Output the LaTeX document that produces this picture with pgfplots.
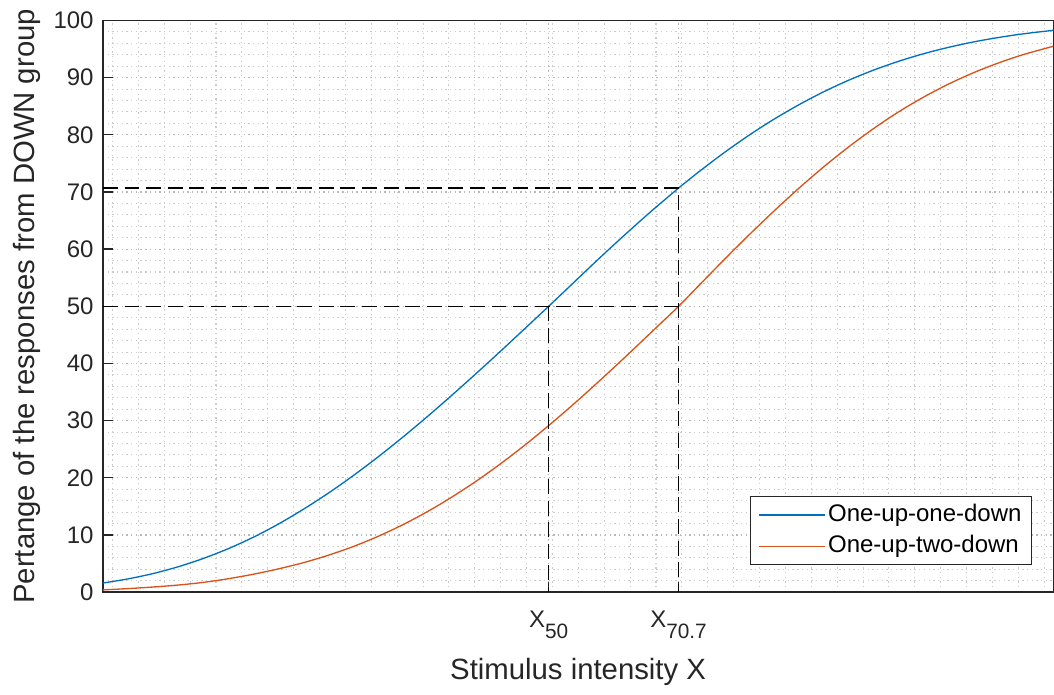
\documentclass[border=0pt]{standalone}
\usepackage{fontspec}
\setmainfont{Liberation Sans}
\usepackage{pgfplots}
\usepackage{pgfplotstable}
\pgfplotsset{compat=1.18}
\definecolor{mblue}{rgb}{0,0.447,0.741}
\definecolor{mred}{rgb}{0.85,0.325,0.098}
\definecolor{axgray}{rgb}{0.15,0.15,0.15}

\pgfplotstableread{
x y
103 1.60
128 2.32
153 3.25
178 4.43
203 5.87
228 7.58
253 9.57
278 11.86
303 14.44
328 17.26
353 20.33
378 23.62
403 27.11
428 30.77
453 34.58
478 38.50
503 42.50
528 46.57
549 50.00
575 54.32
600 58.46
625 62.48
650 66.38
675 70.10
679 70.70
700 73.63
725 76.93
750 79.99
775 82.79
800 85.32
825 87.60
850 89.61
875 91.38
900 92.91
925 94.23
950 95.34
975 96.28
1000 97.05
1025 97.69
1054 98.28
}\oneup

\pgfplotstableread{
x y
103 0.40
128 0.62
153 0.90
178 1.24
203 1.70
228 2.34
253 3.12
278 4.05
303 5.13
328 6.43
353 7.95
378 9.74
403 11.79
428 14.12
453 16.73
478 19.60
503 22.74
528 26.12
553 29.73
578 33.52
603 37.47
628 41.53
653 45.68
679 50.00
700 53.77
725 58.23
750 62.58
775 66.76
800 70.75
825 74.51
850 78.00
875 81.20
900 84.11
925 86.68
950 88.95
975 90.93
1000 92.63
1025 94.09
1054 95.49
}\twodown

\begin{document}
\begin{tikzpicture}
\begin{axis}[
  scale only axis, width=356.6pt, height=214.5pt,
  xmin=103, xmax=1054, ymin=0, ymax=100,
  axis line style={axgray, line width=0.5pt},
  xtick={549,679},
  xticklabels={{X\raisebox{-4pt}{\fontsize{7.8}{8}\selectfont 50}},{X\raisebox{-4pt}{\fontsize{7.8}{8}\selectfont 70.7}}},
  minor xtick={112.5,138.4,...,1050},
  ytick={0,10,...,100},
  minor y tick num=4,
  tick align=inside, tick pos=left,
  major tick length=3.75pt, minor tick length=0pt,
  tick style={axgray, line width=0.5pt},
  grid=both,
  major grid style={gray!55, dash pattern=on 0.5pt off 1.26pt, line width=0.4pt},
  minor grid style={gray!40, dash pattern=on 0.5pt off 1.26pt, line width=0.4pt},
  ticklabel style={font=\fontsize{9}{11}\selectfont, text=axgray},
  /pgf/number format/assume math mode=true,
  xticklabel style={yshift=-3.5pt},
  xlabel={Stimulus intensity X},
  ylabel={Pertange of the responses from DOWN group},
  label style={font=\fontsize{11}{13}\selectfont, text=axgray},
  xlabel style={at={(axis description cs:0.5,-0.099)}, anchor=north},
  ylabel style={at={(axis description cs:-0.0796,0.5)}, anchor=center},
  legend cell align=left,
  legend image code/.code={\draw[#1] (0pt,0pt) -- (24.75pt,0pt);},
  legend style={draw=axgray, line width=0.4pt, fill=white,
    font=\fontsize{9}{11}\selectfont,
    at={(0.978,0.047)}, anchor=south east,
    inner xsep=2.9pt, inner ysep=1pt, row sep=0pt,
    nodes={inner ysep=1.7pt, inner xsep=1pt, text height=6.5pt, text depth=1.9pt}},
]
\addplot[mblue, line width=0.5pt, smooth] table {\oneup};
\addlegendentry{One-up-one-down}
\addplot[mred, line width=0.5pt, smooth] table {\twodown};
\addlegendentry{One-up-two-down}
\addplot[black, line width=0.5pt, dash pattern=on 5.6pt off 2.5pt, forget plot] coordinates {(103,70.7) (679,70.7) (679,0)};
\addplot[black, line width=0.5pt, dash pattern=on 5.6pt off 2.5pt, forget plot] coordinates {(103,50) (679,50)};
\addplot[black, line width=0.5pt, dash pattern=on 5.6pt off 2.5pt, forget plot] coordinates {(549,50) (549,0)};
\end{axis}
\path ([xshift=-38.63pt,yshift=-36.94pt]current axis.south west) ([yshift=7.69pt]current axis.north east);
\end{tikzpicture}
\end{document}
